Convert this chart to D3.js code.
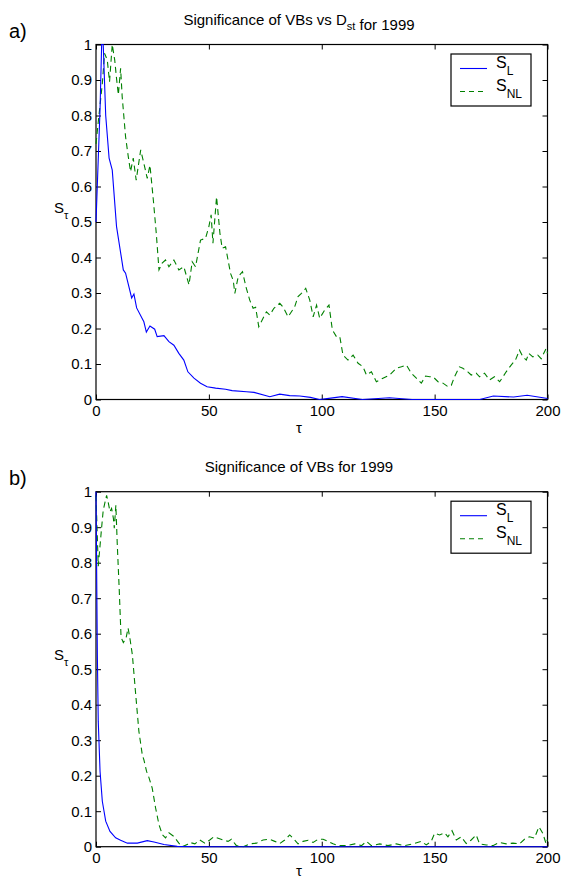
<!DOCTYPE html>
<html>
<head>
<meta charset="utf-8">
<script src="https://cdn.jsdelivr.net/npm/d3@7"></script>
<style>
  body { margin: 0; background: #fff; }
  svg { display: block; font-family: "Liberation Sans", Arial, sans-serif; }
</style>
</head>
<body>
<svg id="chart" width="561" height="880"></svg>
<script>
// tick values
var xTicks = [0, 50, 100, 150, 200];
var yTicks = [0, 0.1, 0.2, 0.3, 0.4, 0.5, 0.6, 0.7, 0.8, 0.9, 1];

// panel a) [tau, significance]
var topLinear = [
  [0, 0.5], [1.8, 0.82], [2.5, 1.0], [3.2, 1.0], [4.3, 0.8], [5.8, 0.68], [7.2, 0.646],
  [9.1, 0.487], [12.1, 0.365], [13.1, 0.356], [15.8, 0.286], [16.8, 0.297], [18, 0.258],
  [21.2, 0.219], [22.3, 0.19], [23.9, 0.207], [26, 0.198], [27.1, 0.177], [30.1, 0.18],
  [32.3, 0.163], [34.5, 0.153], [36.7, 0.13], [38.9, 0.111], [40.7, 0.078], [43.4, 0.06],
  [46.3, 0.046], [49.2, 0.036], [53, 0.032], [57.4, 0.029], [60.3, 0.025], [66.7, 0.022],
  [70, 0.02], [77, 0.008], [81.4, 0.015], [85.8, 0.011], [90.3, 0.01], [95, 0.006],
  [99, 0.0], [104, 0.004], [109, 0.008], [118, 0.0], [125, 0.003], [130, 0.005],
  [140, 0.0], [150, 0.0], [160, 0.0], [170, 0.0], [176, 0.01], [185, 0.007],
  [191, 0.012], [198, 0.005], [200, 0.003]
];
var topNonlinear = [
  [0, 0.72], [1.3, 0.8], [2.8, 0.89], [3.8, 0.975], [5, 0.956], [6, 0.895], [7.2, 1.0],
  [8.3, 0.956], [9, 0.91], [9.9, 0.858], [10.9, 0.933], [11.6, 0.853], [13.1, 0.74],
  [14.3, 0.684], [15.3, 0.642], [16.5, 0.68], [17.8, 0.618], [19.8, 0.703], [21.2, 0.665],
  [22.7, 0.623], [23.9, 0.66], [25.4, 0.562], [26.7, 0.468], [27.9, 0.365], [29.3, 0.384],
  [30.8, 0.393], [32.3, 0.374], [34.5, 0.393], [36.7, 0.365], [38.9, 0.374], [41.2, 0.323],
  [42.6, 0.388], [44.1, 0.374], [46.3, 0.449], [48.5, 0.454], [50, 0.487], [51, 0.52],
  [51.8, 0.44], [53.4, 0.571], [54.9, 0.468], [55.9, 0.426], [57.4, 0.43], [59.6, 0.355],
  [60.8, 0.335], [61.5, 0.299], [63, 0.346], [64.9, 0.36], [66.4, 0.318], [68.1, 0.28],
  [69.6, 0.257], [70.7, 0.26], [72.1, 0.205], [74, 0.229], [75.5, 0.247], [77, 0.238],
  [78.8, 0.257], [81.4, 0.271], [82.9, 0.26], [85.1, 0.233], [88, 0.261], [89.5, 0.29],
  [91, 0.299], [92.9, 0.313], [94.7, 0.28], [96.2, 0.233], [97.7, 0.266], [99.1, 0.229],
  [101.3, 0.252], [103.2, 0.266], [104.7, 0.196], [106.5, 0.177], [108, 0.177],
  [109.4, 0.125], [111.6, 0.111], [113.9, 0.125], [116.1, 0.102], [118.3, 0.092],
  [119.8, 0.069], [122, 0.078], [124.2, 0.05], [127.1, 0.06], [130.1, 0.069], [133, 0.088],
  [135.3, 0.092], [137.5, 0.097], [139.7, 0.074], [141.9, 0.06], [144.1, 0.046],
  [146, 0.066], [147.8, 0.064], [149.3, 0.064], [151.5, 0.05], [153.7, 0.046],
  [155.9, 0.036], [157.4, 0.04], [158.8, 0.064], [161, 0.092], [162.5, 0.088],
  [164.7, 0.078], [166.2, 0.069], [168.4, 0.074], [169.9, 0.064], [172.1, 0.074],
  [174.3, 0.055], [176.5, 0.064], [178.8, 0.05], [181.7, 0.078], [183.9, 0.097],
  [185.8, 0.111], [187.6, 0.139], [189.1, 0.12], [190.6, 0.111], [191.7, 0.13],
  [193.5, 0.12], [195.7, 0.125], [197.2, 0.115], [199.4, 0.144], [200, 0.13]
];

// panel b)
var bottomLinear = [
  [0, 1.0], [0.6, 0.54], [1, 0.353], [1.8, 0.212], [2.8, 0.128], [4.3, 0.072], [6.2, 0.043],
  [8.7, 0.025], [10.9, 0.018], [13.9, 0.01], [18.3, 0.01], [22.7, 0.017], [25.7, 0.013],
  [30.1, 0.006], [36, 0.001], [45, 0], [200, 0]
];
var bottomNonlinear = [
  [0, 0.99], [1, 0.79], [2.5, 0.9], [3.2, 0.948], [4.7, 0.99], [5.5, 0.967], [6.2, 0.944],
  [6.9, 0.953], [7.7, 0.925], [8.1, 0.897], [8.8, 0.962], [9.4, 0.855], [10.3, 0.723],
  [11.1, 0.59], [12.1, 0.575], [13.3, 0.587], [14.2, 0.616], [15, 0.588], [16.1, 0.541],
  [17.6, 0.428], [19, 0.325], [20.5, 0.259], [21.2, 0.245], [22.4, 0.212], [23.5, 0.194],
  [24.9, 0.165], [26.4, 0.109], [27.9, 0.062], [29.4, 0.034], [30.8, 0.025], [32.3, 0.039],
  [34.5, 0.029], [36.7, 0.01], [38.2, 0.0], [40.4, 0.006], [41.6, 0.012], [43.8, 0.008],
  [46, 0.019], [48.2, 0.01], [50.4, 0.019], [52.2, 0.028], [54.1, 0.024], [56.3, 0.019],
  [58.5, 0.015], [60, 0.021], [62.2, 0.003], [65.2, 0], [68.1, 0.008], [71.1, 0.01],
  [74, 0.019], [77, 0.021], [79.2, 0.015], [81.4, 0.009], [83.6, 0.019], [85.8, 0.033],
  [88, 0.019], [89.5, 0.008], [91.7, 0.015], [94, 0.018], [96.2, 0.012], [98.4, 0.021],
  [100.6, 0.021], [102.8, 0.015], [105, 0.008], [107.2, 0.003], [110.9, 0.003],
  [114.6, 0.008], [117.6, 0.003], [119.8, 0.015], [122, 0.003], [125.7, 0.008],
  [129.3, 0.003], [133, 0.008], [136.7, 0.003], [140.4, 0.008], [144.1, 0.015],
  [146.3, 0.005], [148.5, 0.015], [150, 0.038], [152.2, 0.033], [154.4, 0.039],
  [155.9, 0.028], [157.7, 0.045], [159.6, 0.019], [161.8, 0.028], [164, 0.009],
  [166.2, 0.019], [168.4, 0.033], [169.9, 0.008], [172.9, 0.005], [175.8, 0.003],
  [178.8, 0.012], [181.7, 0.008], [184.7, 0.01], [187.6, 0.008], [189.8, 0.021],
  [192, 0.028], [194.2, 0.024], [196.2, 0.056], [197.9, 0.038], [199.4, 0.008], [200, 0.02]
];

var svg = d3.select("#chart");

var x = d3.scaleLinear().domain([0, 200]).range([96, 547.5]);

function drawPanel(opt) {
  var y = d3.scaleLinear().domain([0, 1]).range([opt.bottom, opt.top]);
  var g = svg.append("g");
  var h = opt.bottom - opt.top;

  // axes, ticks pointing inwards
  var left = g.append("g")
    .attr("transform", "translate(" + x(0) + ",0)")
    .call(d3.axisLeft(y).tickValues(yTicks).tickSizeInner(-5).tickSizeOuter(0).tickPadding(4)
      .tickFormat(function(d) { return String(d); }));
  var right = g.append("g")
    .attr("transform", "translate(" + x(200) + ",0)")
    .call(d3.axisRight(y).tickValues(yTicks).tickSizeInner(-5).tickSizeOuter(0).tickFormat(""));
  var bottom = g.append("g")
    .attr("transform", "translate(0," + opt.bottom + ")")
    .call(d3.axisBottom(x).tickValues(xTicks).tickSizeInner(-5).tickSizeOuter(0).tickPadding(6));
  var top = g.append("g")
    .attr("transform", "translate(0," + opt.top + ")")
    .call(d3.axisTop(x).tickValues(xTicks).tickSizeInner(-5).tickSizeOuter(0).tickFormat(""));

  [left, right, bottom, top].forEach(function(a) {
    a.select(".domain").remove();
    a.selectAll("line").attr("stroke", "#000");
    a.selectAll("text")
      .attr("fill", "#000")
      .attr("font-size", 15)
      .attr("font-family", "Liberation Sans, Arial, sans-serif");
  });

  g.append("rect")
    .attr("x", x(0))
    .attr("y", opt.top)
    .attr("width", x(200) - x(0))
    .attr("height", h)
    .attr("fill", "none")
    .attr("stroke", "#000")
    .attr("stroke-width", 1.2);

  // curves drawn over the box, like the original
  var line = d3.line()
    .x(function(d) { return x(d[0]); })
    .y(function(d) { return y(d[1]); });

  g.append("path")
    .datum(opt.nl)
    .attr("d", line)
    .attr("fill", "none")
    .attr("stroke", "#008000")
    .attr("stroke-width", 1.1)
    .attr("stroke-dasharray", "6,4");

  g.append("path")
    .datum(opt.l)
    .attr("d", line)
    .attr("fill", "none")
    .attr("stroke", "#0000ff")
    .attr("stroke-width", 1.1);

  // title
  var t = g.append("text")
    .attr("x", 299)
    .attr("y", opt.top - 20)
    .attr("text-anchor", "middle")
    .attr("font-size", 15);
  opt.title.forEach(function(part) {
    if (part.sub) {
      t.append("tspan").attr("dy", 5).attr("font-size", 11).text(part.text);
      t.append("tspan").attr("dy", -5).text("");
    } else {
      t.append("tspan").text(part.text);
    }
  });

  // panel letter
  g.append("text")
    .attr("x", 9)
    .attr("y", opt.top - 7)
    .attr("font-size", 20)
    .text(opt.letter);

  // y label S_tau
  var yl = g.append("text")
    .attr("x", 54)
    .attr("y", (opt.top + opt.bottom) / 2 - 9)
    .attr("font-size", 15);
  yl.append("tspan").text("S");
  yl.append("tspan").attr("dy", 6).attr("font-size", 11).text("τ");

  // x label
  g.append("text")
    .attr("x", 299)
    .attr("y", Math.min(opt.bottom + 33, 876))
    .attr("text-anchor", "middle")
    .attr("font-size", 15)
    .text("τ");

  // legend
  var lg = g.append("g").attr("transform", "translate(451," + (opt.top + 9.5) + ")");
  lg.append("rect")
    .attr("width", 80)
    .attr("height", 52)
    .attr("fill", "#fff")
    .attr("stroke", "#000")
    .attr("stroke-width", 1.2);
  var items = [
    { name: "L", color: "#0000ff", dash: null, yy: 14.5 },
    { name: "NL", color: "#008000", dash: "5,4", yy: 37.5 }
  ];
  items.forEach(function(it) {
    lg.append("line")
      .attr("x1", 9).attr("x2", 36)
      .attr("y1", it.yy).attr("y2", it.yy)
      .attr("stroke", it.color)
      .attr("stroke-width", 1.1)
      .attr("stroke-dasharray", it.dash);
    var lt = lg.append("text")
      .attr("x", 45)
      .attr("y", it.yy - 0.5)
      .attr("font-size", 16);
    lt.append("tspan").text("S");
    lt.append("tspan").attr("dy", 7).attr("font-size", 12).text(it.name);
  });
}

drawPanel({
  top: 44.5, bottom: 399.5, letter: "a)",
  title: [{ text: "Significance of VBs vs D" }, { text: "st", sub: true }, { text: " for 1999" }],
  l: topLinear, nl: topNonlinear
});

drawPanel({
  top: 491.7, bottom: 846.7, letter: "b)",
  title: [{ text: "Significance of VBs for 1999" }],
  l: bottomLinear, nl: bottomNonlinear
});
</script>
</body>
</html>
